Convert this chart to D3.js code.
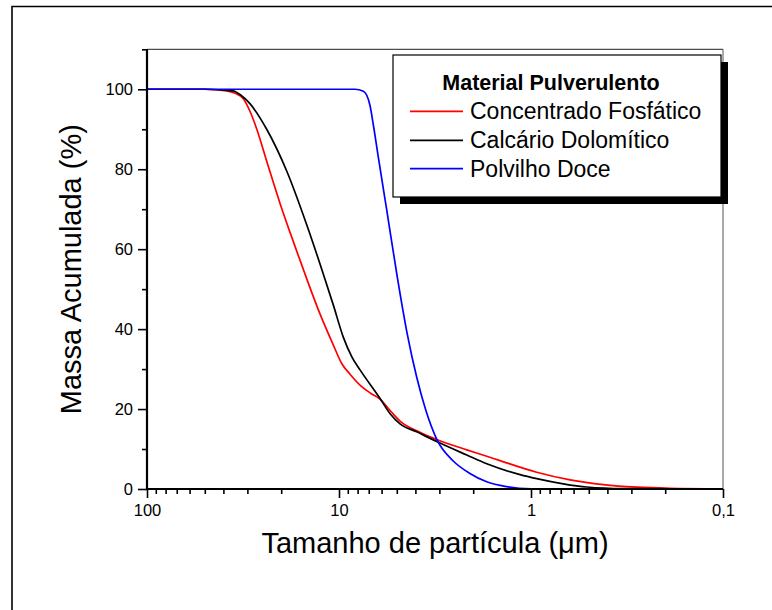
<!DOCTYPE html>
<html>
<head>
<meta charset="utf-8">
<script src="https://cdn.jsdelivr.net/npm/d3@7"></script>
<style>
  html, body { margin: 0; padding: 0; background: #fff; }
  svg { display: block; }
  text { font-family: "Liberation Sans", Arial, Helvetica, sans-serif; fill: #000; }
</style>
</head>
<body>
<svg id="chart" width="772" height="610"></svg>
<script>
// Cumulative mass (%) versus particle size (µm) for three powders
const fosfaticoSize = [100, 50, 38.5, 34.8, 31.5, 29.1, 26.8, 23.8, 20.3, 16.6, 14.45, 12.56, 10.7, 9.68, 8.76, 7.62, 6.81, 6.12, 5.32, 4.81, 3.79, 3.10, 2.16, 1.70, 1.45, 0.934, 0.626, 0.42, 0.281, 0.189, 0.1];
const fosfaticoMass = [100, 100, 99.6, 99.0, 97.6, 94.5, 90, 82, 71.5, 59.5, 51.5, 43.8, 36, 31.4, 28.7, 25.6, 23.9, 22.5, 19.2, 17.0, 14.2, 12.4, 9.8, 8.2, 7.1, 4.2, 2.3, 1.1, 0.45, 0.18, 0.05];

const dolomiticoSize = [100, 50, 35.7, 32.4, 29.1, 23.8, 18.7, 14.7, 11.83, 10.7, 9.50, 8.56, 7.77, 6.12, 5.43, 4.81, 3.94, 2.98, 2.16, 1.70, 1.14, 0.934, 0.679, 0.513, 0.33, 0.1];
const dolomiticoMass = [100, 100, 99.6, 98.5, 96.4, 90, 79.5, 66, 52.5, 46, 38, 33, 29.8, 22.7, 18.9, 16.3, 14.3, 11.5, 8.5, 6.3, 3.6, 2.6, 1.3, 0.5, 0.1, 0];

const polvilhoSize = [100, 20, 8.26, 7.47, 7.17, 6.90, 6.62, 6.24, 5.65, 4.97, 4.42, 3.94, 3.52, 3.10, 2.54, 2.08, 1.70, 1.34, 1.0, 0.7, 0.1];
const polvilhoMass = [100, 100, 100, 99.5, 98.5, 96, 91, 83, 70, 53, 39, 28, 19.5, 12.5, 7.0, 3.9, 1.8, 0.6, 0.05, 0, 0];

const seriesNames = ["Concentrado Fosfático", "Calcário Dolomítico", "Polvilho Doce"];
const seriesColors = ["#ff0000", "#000000", "#0000ff"];

const xMajorTicks = [100, 10, 1, 0.1];
const xTickLabels = ["100", "10", "1", "0,1"];
const yMajorTicks = [0, 20, 40, 60, 80, 100];
const yMinorTicks = [10, 30, 50, 70, 90, 110];

const legendTitle = "Material Pulverulento";
const xTitle = "Tamanho de partícula (\u03bcm)";
const yTitle = "Massa Acumulada (%)";

const series = [
  { name: seriesNames[0], color: seriesColors[0], size: fosfaticoSize, mass: fosfaticoMass },
  { name: seriesNames[1], color: seriesColors[1], size: dolomiticoSize, mass: dolomiticoMass },
  { name: seriesNames[2], color: seriesColors[2], size: polvilhoSize, mass: polvilhoMass }
];

const svg = d3.select("#chart");

// outer page frame
svg.append("path")
  .attr("d", "M12,620 V6.5 H790")
  .attr("fill", "none").attr("stroke", "#000").attr("stroke-width", 1.6);

const plot = { left: 147, right: 723, top: 49.3, bottom: 489 };

const x = d3.scaleLog().domain([100, 0.1]).range([plot.left, plot.right]);
const y = d3.scaleLinear().domain([0, 110]).range([plot.bottom, plot.top]);

// minor x ticks: 2..9 within each decade
const xMinorTicks = [];
[10, 1, 0.1].forEach(d => { for (let k = 2; k <= 9; k++) xMinorTicks.push(+(d * k).toPrecision(3)); });

// frame lines on top and right
svg.append("line")
  .attr("x1", plot.left).attr("x2", plot.right).attr("y1", plot.top).attr("y2", plot.top)
  .attr("stroke", "#222").attr("stroke-width", 1);
svg.append("line")
  .attr("x1", plot.right).attr("x2", plot.right).attr("y1", plot.top).attr("y2", plot.bottom)
  .attr("stroke", "#555").attr("stroke-width", 1);

// curves
const line = d3.line()
  .x(d => x(d[0]))
  .y(d => y(d[1]))
  .curve(d3.curveMonotoneX);

const curves = svg.append("g");
series.forEach(s => {
  const pts = s.size.map((v, i) => [v, s.mass[i]]);
  curves.append("path")
    .datum(pts)
    .attr("d", line)
    .attr("fill", "none")
    .attr("stroke", s.color)
    .attr("stroke-width", 1.7)
    .attr("stroke-linejoin", "round");
});

// x axis
const xAxis = svg.append("g").attr("transform", `translate(0,${plot.bottom})`);
xAxis.call(d3.axisBottom(x).tickValues(xMajorTicks).tickSize(9).tickPadding(6)
  .tickFormat((d, i) => xTickLabels[i]));
const xMinor = svg.append("g").attr("transform", `translate(0,${plot.bottom})`);
xMinor.call(d3.axisBottom(x).tickValues(xMinorTicks).tickSize(5).tickFormat(""));
xMinor.select(".domain").remove();

// y axis
const yAxis = svg.append("g").attr("transform", `translate(${plot.left},0)`);
yAxis.call(d3.axisLeft(y).tickValues(yMajorTicks).tickSize(9).tickPadding(5));
const yMinor = svg.append("g").attr("transform", `translate(${plot.left},0)`);
yMinor.call(d3.axisLeft(y).tickValues(yMinorTicks).tickSize(5).tickFormat(""));
yMinor.select(".domain").remove();

[xAxis, xMinor, yAxis, yMinor].forEach(g => {
  g.selectAll(".tick line").attr("stroke", "#000").attr("stroke-width", 1.6);
  g.selectAll(".domain").attr("stroke", "#000").attr("stroke-width", 2.2);
  g.selectAll(".tick text").style("font-family", '"Liberation Sans", Arial, sans-serif')
    .style("font-size", "16.5px").attr("fill", "#000");
});
xAxis.select(".domain").attr("d", `M${plot.left},0H${plot.right}`);
yAxis.select(".domain").attr("d", `M0,${plot.bottom}V${plot.top}`);

// axis titles
svg.append("text")
  .attr("x", (plot.left + plot.right) / 2).attr("y", 553)
  .attr("text-anchor", "middle").style("font-size", "29px")
  .text(xTitle);
svg.append("text")
  .attr("transform", `translate(81,${(plot.top + plot.bottom) / 2}) rotate(-90)`)
  .attr("text-anchor", "middle").style("font-size", "29px")
  .text(yTitle);

// legend with drop shadow
const lg = { x: 393, y: 55, w: 328, h: 142, off: 7 };
svg.append("rect")
  .attr("x", lg.x + lg.off).attr("y", lg.y + lg.off).attr("width", lg.w).attr("height", lg.h)
  .attr("fill", "#000");
svg.append("rect")
  .attr("x", lg.x).attr("y", lg.y).attr("width", lg.w).attr("height", lg.h)
  .attr("fill", "#fff").attr("stroke", "#000").attr("stroke-width", 1.2);
svg.append("text")
  .attr("x", 551).attr("y", 90)
  .attr("text-anchor", "middle").style("font-size", "21.5px").style("font-weight", "bold")
  .text(legendTitle);
const rowY = [119.3, 148.3, 176.7];
series.forEach((s, i) => {
  svg.append("line")
    .attr("x1", 410).attr("x2", 463).attr("y1", rowY[i] - 8).attr("y2", rowY[i] - 8)
    .attr("stroke", s.color).attr("stroke-width", 1.7);
  svg.append("text")
    .attr("x", 470).attr("y", rowY[i])
    .style("font-size", "23px")
    .text(s.name);
});
</script>
</body>
</html>
